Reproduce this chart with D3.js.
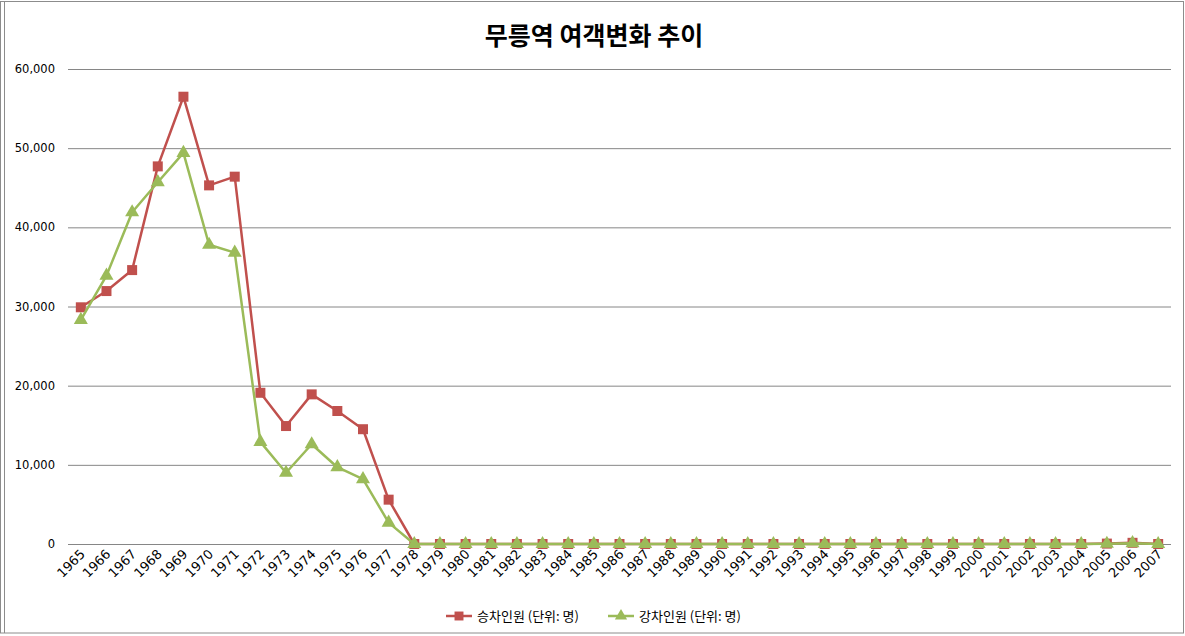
<!DOCTYPE html>
<html><head><meta charset="utf-8">
<script src="https://cdn.jsdelivr.net/npm/d3@7"></script>
<style>body{margin:0;background:#fff}svg{display:block}</style>
</head><body>
<svg id="c" width="1185" height="636"></svg>
<script>
const years = [];
for (let y = 1965; y <= 2007; y++) years.push(String(y));
const boarding = [29900, 31950, 34600, 47700, 56500, 45300, 46400, 19100, 14900, 18900, 16800, 14500, 5600,
  0,0,0,0,0,0,0,0,0,0,0,0,0,0,0,0,0,0,0,0,0,0,0,0,0,0,0,50,150,0];
const alighting = [28300, 33900, 41900, 45700, 49400, 37800, 36800, 12900, 9000, 12600, 9700, 8200, 2700,
  0,0,0,0,0,0,0,0,0,0,0,0,0,0,0,0,0,0,0,0,0,0,0,0,0,0,0,30,100,0];
const yTicks = [0, 10000, 20000, 30000, 40000, 50000, 60000];
const title = "무릉역 여객변화 추이";
const seriesNames = ["승차인원 (단위: 명)", "강차인원 (단위: 명)"];
const colors = ["#C0504D", "#9BBB59"];

const svg = d3.select("#c");
const font = "'Noto Sans CJK KR','DejaVu Sans',sans-serif";
const numFont = "'DejaVu Sans',sans-serif";
// frame
svg.append("rect").attr("x",0.5).attr("y",1.5).attr("width",1183).attr("height",631.5)
  .attr("fill","none").attr("stroke","#8c8c8c");
svg.append("line").attr("x1",4.5).attr("x2",4.5).attr("y1",1.5).attr("y2",633)
  .attr("stroke","#8c8c8c");

const L = 68, R = 1171, T = 69, B = 544;
const x = d3.scaleBand().domain(years).range([L, R]);
const y = d3.scaleLinear().domain([0, 60000]).range([B, T]);

// gridlines
svg.append("g").selectAll("line").data(yTicks).join("line")
  .attr("x1", L).attr("x2", R).attr("y1", d => y(d)+0.5).attr("y2", d => y(d)+0.5)
  .attr("stroke", "#868686").attr("stroke-width", 1);

// y axis labels
const fmt = d3.format(",");
svg.append("g").selectAll("text").data(yTicks).join("text")
  .attr("x", 55).attr("y", d => y(d)+4).attr("text-anchor","end")
  .attr("font-family", numFont).attr("font-size", 11.5).attr("fill","#000")
  .text(d => fmt(d));

// x labels
svg.append("g").selectAll("text").data(years).join("text")
  .attr("transform", d => `translate(${x(d)+x.bandwidth()/2+5},${B+11}) rotate(-45)`)
  .attr("text-anchor","end").attr("font-family", numFont).attr("font-size", 13).attr("fill","#000")
  .text(d => d);

const cx = d => x(d) + x.bandwidth()/2;
const line = d3.line().x(d => cx(d[0])).y(d => y(d[1]));
const s1 = years.map((d,i)=>[d, boarding[i]]);
const s2 = years.map((d,i)=>[d, alighting[i]]);

function drawSeries(data, color, shape) {
  svg.append("path").datum(data).attr("d", line).attr("fill","none")
    .attr("stroke", color).attr("stroke-width", 2.5).attr("stroke-linejoin","round");
  const sym = d3.symbol().type(shape).size(shape === d3.symbolSquare ? 100 : 85);
  svg.append("g").selectAll("path").data(data).join("path")
    .attr("transform", d => `translate(${cx(d[0])},${y(d[1])})`)
    .attr("d", sym).attr("fill", color);
}
drawSeries(s1, colors[0], d3.symbolSquare);
drawSeries(s2, colors[1], d3.symbolTriangle);

// title
svg.append("text").attr("x", 594).attr("y", 45).attr("text-anchor","middle")
  .attr("font-family", font).attr("font-size", 25).attr("font-weight","bold").text(title);

// legend
const legX = [446, 608];
seriesNames.forEach((n, i) => {
  const g = svg.append("g");
  g.append("line").attr("x1", legX[i]).attr("x2", legX[i]+26).attr("y1", 616).attr("y2", 616)
    .attr("stroke", colors[i]).attr("stroke-width", 2.5);
  g.append("path").attr("transform", `translate(${legX[i]+13},616)`)
    .attr("d", d3.symbol().type(i===0?d3.symbolSquare:d3.symbolTriangle).size(i===0?80:65))
    .attr("fill", colors[i]);
  g.append("text").attr("x", legX[i]+31).attr("y", 621).attr("font-family", font)
    .attr("font-size", 13).text(n);
});
</script>
</body></html>
